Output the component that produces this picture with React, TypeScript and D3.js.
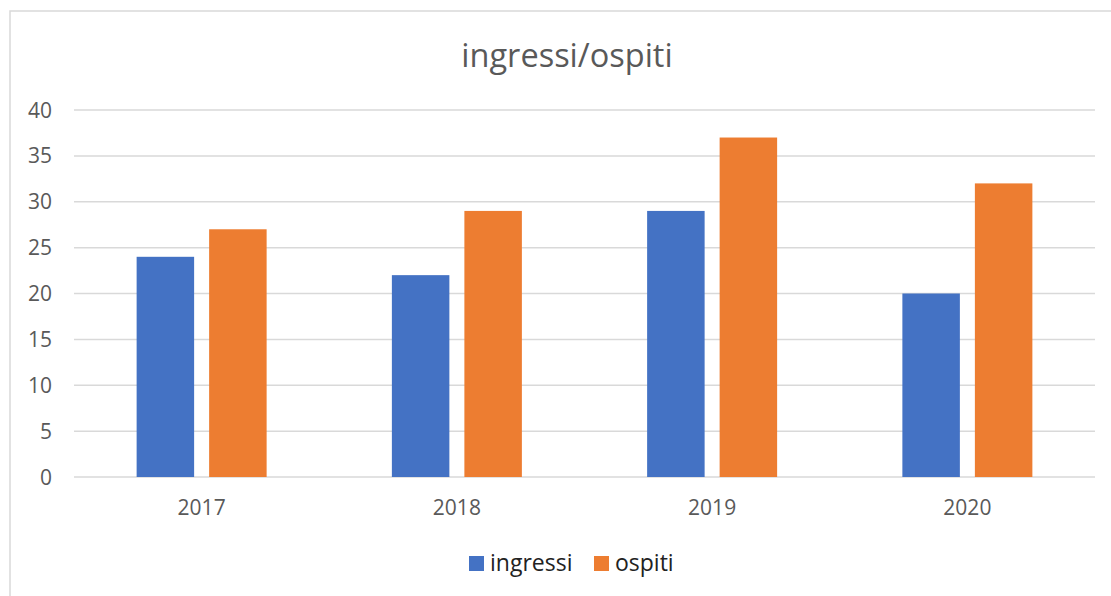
import React, { useEffect, useRef } from 'react';
import * as d3 from 'd3';

const years = ['2017', '2018', '2019', '2020'];
const seriesNames = ['ingressi', 'ospiti'];
const ingressi = [24, 22, 29, 20];
const ospiti = [27, 29, 37, 32];
const yTicks = [0, 5, 10, 15, 20, 25, 30, 35, 40];
const colors = ['#4472C4', '#ED7D31'];

const App = () => {
  const ref = useRef<SVGSVGElement>(null);

  useEffect(() => {
    const svg = d3.select(ref.current);
    svg.selectAll('*').remove();

    const font = '"Open Sans", sans-serif';
    const values = [ingressi, ospiti];

    // chart frame
    svg.append('rect')
      .attr('x', 10).attr('y', 11)
      .attr('width', 1110).attr('height', 610)
      .attr('fill', '#fff')
      .attr('stroke', '#d9d9d9')
      .attr('stroke-width', 1.5);

    svg.append('text')
      .attr('x', 567).attr('y', 67)
      .attr('text-anchor', 'middle')
      .attr('font-family', font)
      .attr('font-size', 32.5)
      .attr('fill', '#595959')
      .text('ingressi/ospiti');

    const x0 = d3.scaleBand().domain(years).range([74, 1095]);
    const x1 = d3.scaleBand().domain(seriesNames).range([0, 130]).paddingInner(0.207);
    const y = d3.scaleLinear().domain([0, 40]).range([477, 110]);

    svg.append('g')
      .selectAll('line')
      .data(yTicks)
      .join('line')
      .attr('x1', 74).attr('x2', 1095)
      .attr('y1', d => y(d)).attr('y2', d => y(d))
      .attr('stroke', '#d9d9d9')
      .attr('stroke-width', 1.5);

    svg.append('g')
      .selectAll('text')
      .data(yTicks)
      .join('text')
      .attr('x', 52)
      .attr('y', d => y(d))
      .attr('dy', '0.36em')
      .attr('text-anchor', 'end')
      .attr('font-family', font)
      .attr('font-size', 21)
      .attr('fill', '#595959')
      .text(d => d);

    seriesNames.forEach((s, si) => {
      svg.append('g')
        .selectAll('rect')
        .data(years)
        .join('rect')
        .attr('x', d => x0(d)! + (x0.bandwidth() - 130) / 2 + x1(s)!)
        .attr('width', x1.bandwidth())
        .attr('y', (d, i) => y(values[si][i]))
        .attr('height', (d, i) => y(0) - y(values[si][i]))
        .attr('fill', colors[si]);
    });

    svg.append('g')
      .selectAll('text')
      .data(years)
      .join('text')
      .attr('x', d => x0(d)! + x0.bandwidth() / 2)
      .attr('y', 515)
      .attr('text-anchor', 'middle')
      .attr('font-family', font)
      .attr('font-size', 21)
      .attr('fill', '#595959')
      .text(d => d);

    // legend
    const legendX = [469, 594];
    seriesNames.forEach((s, i) => {
      svg.append('rect')
        .attr('x', legendX[i]).attr('y', 556)
        .attr('width', 15).attr('height', 15)
        .attr('fill', colors[i]);
      svg.append('text')
        .attr('x', legendX[i] + 21).attr('y', 571)
        .attr('font-family', font)
        .attr('font-size', 23)
        .attr('fill', '#222')
        .text(s);
    });
  }, []);

  return (
    <svg ref={ref} width={1111} height={596}
      style={{ position: 'absolute', left: 0, top: 0 }} />
  );
};

export default App;
